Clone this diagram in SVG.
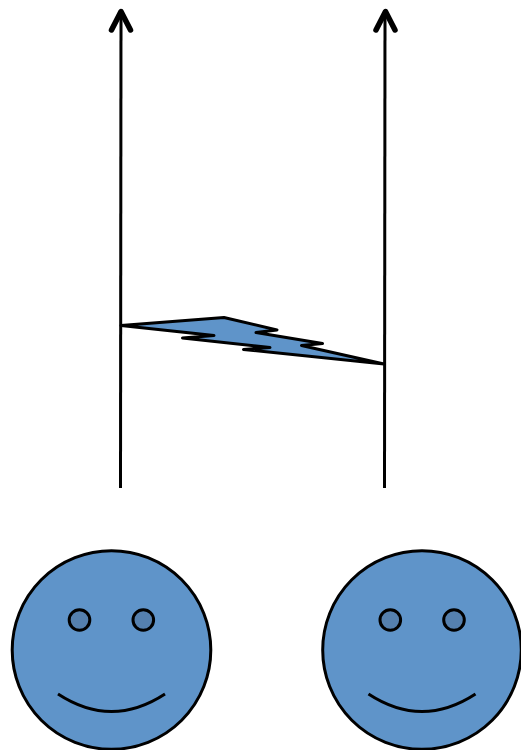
<svg xmlns="http://www.w3.org/2000/svg" width="521" height="750" viewBox="0 0 521 750">
<style>
.face{fill:#5f94c9;stroke:#000;stroke-width:3}
.eye{fill:#5580ae;stroke:#000;stroke-width:3}
.mouth{fill:none;stroke:#000;stroke-width:3}
.line{fill:none;stroke:#000;stroke-width:3}
.head{fill:none;stroke:#000;stroke-width:5.500;stroke-linecap:round;stroke-linejoin:round}
.bolt{fill:#5f94c9;stroke:#000;stroke-width:3;stroke-linejoin:round}
</style>
<g id="connectors">
<path class="line" d="M120.500 488L121 12"/>
<path class="head" d="M111.500 30L121 11.500L130.500 30"/>
<path class="line" d="M384.500 488L385 12"/>
<path class="head" d="M376 30L385.500 11.500L395 30"/>
</g>
<g id="bolt"><path class="bolt" d="M121 325.500L224 317.500L277 330L256 332.500L322.500 343.500L301.500 345.500L384 364L243.500 349.500L270 347.500L182.500 338L214 335.500Z"/></g>
<g id="face-left">
<circle class="face" cx="111.500" cy="650" r="99.300"/>
<circle class="eye" cx="79.500" cy="620" r="10.300"/>
<circle class="eye" cx="143.300" cy="620" r="10.300"/>
<path class="mouth" d="M58 694Q111.500 729 165 694"/>
</g>
<g id="face-right">
<circle class="face" cx="422" cy="650" r="99.300"/>
<circle class="eye" cx="390.300" cy="620" r="10.300"/>
<circle class="eye" cx="454" cy="620" r="10.300"/>
<path class="mouth" d="M368.500 694Q422 729 475.500 694"/>
</g>
</svg>
